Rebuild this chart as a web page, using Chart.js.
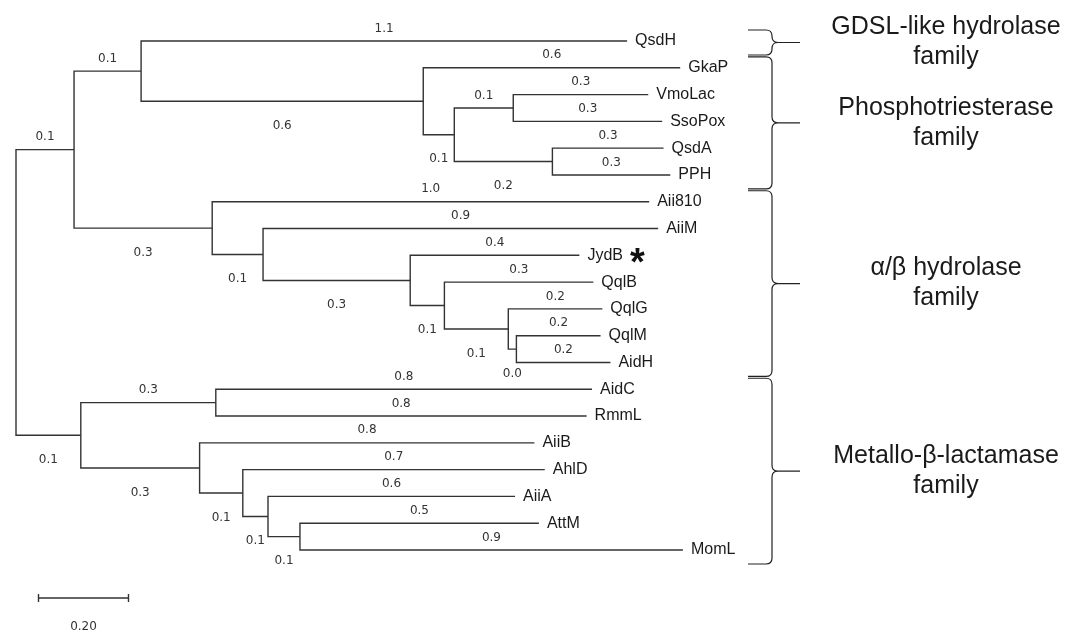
<!DOCTYPE html>
<html>
<head>
<meta charset="utf-8">
<script src="https://cdn.jsdelivr.net/npm/chart.js@4.4.1/dist/chart.umd.min.js"></script>
<style>
    html, body { margin: 0; padding: 0; background: #fff; }
    canvas { display: block; }
</style>
</head>
<body>
<canvas id="treeChart" width="1080" height="633"></canvas>
<script>
// Blätter von oben nach unten, mit Länge des Endastes
var leaves = ['QsdH', 'GkaP', 'VmoLac', 'SsoPox', 'QsdA', 'PPH', 'Aii810', 'AiiM', 'JydB', 'QqlB',
              'QqlG', 'QqlM', 'AidH', 'AidC', 'RmmL', 'AiiB', 'AhlD', 'AiiA', 'AttM', 'MomL']
var leafLength = [1.080, 0.571, 0.300, 0.331, 0.247, 0.262, 0.971, 0.878, 0.376, 0.331,
                  0.209, 0.187, 0.209, 0.836, 0.824, 0.744, 0.671, 0.549, 0.531, 0.851]
var leafLabel = ['1.1', '0.6', '0.3', '0.3', '0.3', '0.3', '1.0', '0.9', '0.4', '0.3',
                 '0.2', '0.2', '0.2', '0.8', '0.8', '0.8', '0.7', '0.6', '0.5', '0.9']

// innere Knoten: Kinder (oben, unten) und Länge des Astes zum Elternknoten
var nodes = ['root', 'N1', 'N2', 'N3', 'N4', 'N5', 'N6', 'N7', 'N8', 'N9',
             'N10', 'N11', 'N12', 'N13', 'N14', 'N15', 'N16', 'N17', 'N18']
var nodeChildren = [['N1', 'N13'], ['N2', 'N7'], ['QsdH', 'N3'], ['GkaP', 'N4'], ['N5', 'N6'],
                    ['VmoLac', 'SsoPox'], ['QsdA', 'PPH'], ['Aii810', 'N8'], ['AiiM', 'N9'], ['JydB', 'N10'],
                    ['QqlB', 'N11'], ['QqlG', 'N12'], ['QqlM', 'AidH'], ['N14', 'N15'], ['AidC', 'RmmL'],
                    ['AiiB', 'N16'], ['AhlD', 'N17'], ['AiiA', 'N18'], ['AttM', 'MomL']]
var nodeLength = [0, 0.129, 0.149, 0.627, 0.069, 0.131, 0.218, 0.307, 0.113, 0.327,
                  0.076, 0.142, 0.018, 0.144, 0.300, 0.264, 0.096, 0.056, 0.071]
var nodeLabel = ['', '0.1', '0.1', '0.6', '0.1', '0.1', '0.2', '0.3', '0.1', '0.3',
                 '0.1', '0.1', '0.0', '0.1', '0.3', '0.3', '0.1', '0.1', '0.1']

// Familien (Klammern rechts)
var familyName = [['GDSL-like hydrolase', 'family'], ['Phosphotriesterase', 'family'],
                  ['\u03b1/\u03b2 hydrolase', 'family'], ['Metallo-\u03b2-lactamase', 'family']]
var familyFirst = ['QsdH', 'GkaP', 'Aii810', 'AidC']
var familyLast = ['QsdH', 'PPH', 'AidH', 'MomL']

var marked = ['JydB']
var scaleBarStart = 0.05
var scaleBarLength = 0.20

//Positionen aus den Astlängen berechnen
var pos = {}
var branches = []
function place(name, x0, above) {
    var li = leaves.indexOf(name)
    if (li >= 0) {
        pos[name] = { x: x0 + leafLength[li], y: li }
        branches.push({ x0: x0, x1: pos[name].x, y: li, label: leafLabel[li], above: true })
        return pos[name]
    }
    var ni = nodes.indexOf(name)
    var x = x0 + nodeLength[ni]
    var a = place(nodeChildren[ni][0], x, true)
    var b = place(nodeChildren[ni][1], x, false)
    pos[name] = { x: x, y: (a.y + b.y) / 2 }
    if (nodeLabel[ni] !== '') {
        branches.push({ x0: x0, x1: x, y: pos[name].y, label: nodeLabel[ni], above: above })
    }
    return pos[name]
}
place('root', 0, true)

var lineColor = '#333'
var datasets = nodes.map(function (n, i) {
    var p = pos[n]
    var a = pos[nodeChildren[i][0]]
    var b = pos[nodeChildren[i][1]]
    return {
        data: [{ x: a.x, y: a.y }, { x: p.x, y: a.y }, { x: p.x, y: b.y }, { x: b.x, y: b.y }],
        showLine: true,
        borderColor: lineColor,
        borderWidth: 1.4,
        pointRadius: 0,
        tension: 0,
        clip: false
    }
})

function drawBrace(ctx, top, bottom, left, spine, tip) {
    var mid = (top + bottom) / 2
    var r = Math.min(6, (bottom - top) / 4)
    ctx.beginPath()
    ctx.moveTo(left, top)
    ctx.lineTo(spine - r, top)
    ctx.quadraticCurveTo(spine, top, spine, top + r)
    ctx.lineTo(spine, mid - r)
    ctx.quadraticCurveTo(spine, mid, spine + r, mid)
    ctx.lineTo(tip, mid)
    ctx.moveTo(spine + r, mid)
    ctx.quadraticCurveTo(spine, mid, spine, mid + r)
    ctx.lineTo(spine, bottom - r)
    ctx.quadraticCurveTo(spine, bottom, spine - r, bottom)
    ctx.lineTo(left, bottom)
    ctx.stroke()
}

var treeText = {
    id: 'treeText',
    afterDraw: function (chart) {
        var ctx = chart.ctx
        var xs = chart.scales.x
        var ys = chart.scales.y
        ctx.save()

        //Astlängen
        ctx.font = '12px "DejaVu Sans"'
        ctx.fillStyle = '#333'
        ctx.textAlign = 'center'
        ctx.textBaseline = 'middle'
        branches.forEach(function (b) {
            var px = (xs.getPixelForValue(b.x0) + xs.getPixelForValue(b.x1)) / 2
            var py = ys.getPixelForValue(b.y) + (b.above ? -12.5 : 24.5)
            ctx.fillText(b.label, px, py)
        })

        //Namen der Blätter
        ctx.font = '16px "Liberation Sans"'
        ctx.fillStyle = '#1a1a1a'
        ctx.textAlign = 'left'
        leaves.forEach(function (name) {
            var px = xs.getPixelForValue(pos[name].x) + 8
            var py = ys.getPixelForValue(pos[name].y)
            ctx.fillText(name, px, py)
            if (marked.indexOf(name) >= 0) {
                var w = ctx.measureText(name).width
                ctx.save()
                ctx.font = 'bold 38px "Liberation Sans"'
                ctx.textBaseline = 'alphabetic'
                ctx.fillStyle = '#111'
                var m = ctx.measureText('*')
                var base = py + (m.actualBoundingBoxAscent - m.actualBoundingBoxDescent) / 2
                ctx.fillText('*', px + w + 7 + m.actualBoundingBoxLeft, base)
                ctx.restore()
            }
        })

        //Klammern und Familien
        ctx.strokeStyle = '#222'
        ctx.lineWidth = 1.2
        ctx.font = '25px "Liberation Sans"'
        ctx.textAlign = 'center'
        familyName.forEach(function (lines, i) {
            var top = ys.getPixelForValue(leaves.indexOf(familyFirst[i])) - 11
            var bottom = ys.getPixelForValue(leaves.indexOf(familyLast[i])) + 14
            drawBrace(ctx, top, bottom, 748, 772, 800)
            var mid = (top + bottom) / 2
            ctx.fillText(lines[0], 946, mid - 15)
            ctx.fillText(lines[1], 946, mid + 15)
        })

        //Maßstab
        var x1 = xs.getPixelForValue(scaleBarStart)
        var x2 = xs.getPixelForValue(scaleBarStart + scaleBarLength)
        var yb = ys.getPixelForValue(leaves.length - 1) + 48
        ctx.strokeStyle = lineColor
        ctx.lineWidth = 1.4
        ctx.beginPath()
        ctx.moveTo(x1, yb); ctx.lineTo(x2, yb)
        ctx.moveTo(x1, yb - 4); ctx.lineTo(x1, yb + 4)
        ctx.moveTo(x2, yb - 4); ctx.lineTo(x2, yb + 4)
        ctx.stroke()
        ctx.font = '12px "DejaVu Sans"'
        ctx.fillStyle = '#333'
        ctx.fillText(scaleBarLength.toFixed(2), (x1 + x2) / 2, yb + 29)

        ctx.restore()
    }
}

var xMax = 2.0
var ctx = document.getElementById('treeChart').getContext('2d')
var myChart = new Chart(ctx, {
    type: 'scatter',
    data: { datasets: datasets },
    options: {
        responsive: false,
        animation: false,
        layout: { padding: { left: 16, top: 41, right: 1080 - (16 + 450 * xMax), bottom: 83 } },
        plugins: { legend: { display: false }, tooltip: { enabled: false } },
        scales: {
            x: { type: 'linear', min: 0, max: xMax, display: false },
            y: { type: 'linear', min: 0, max: leaves.length - 1, reverse: true, display: false }
        }
    },
    plugins: [treeText]
})
</script>
</body>
</html>
